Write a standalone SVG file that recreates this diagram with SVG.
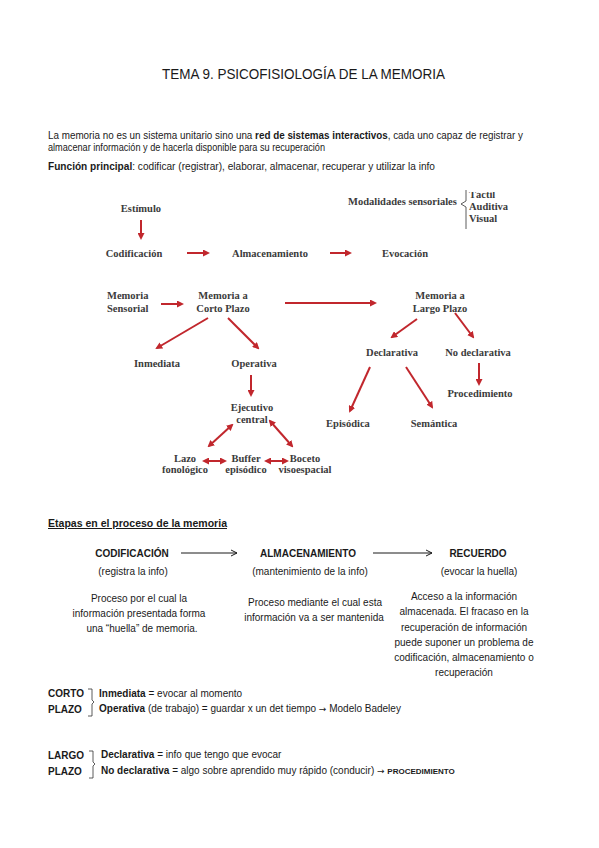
<svg xmlns="http://www.w3.org/2000/svg" width="599" height="848" viewBox="0 0 599 848">
<style>
.t{font-family:"Liberation Sans",Arial,sans-serif;font-size:10px;fill:#1a1a1a}
.b{font-weight:bold}
.ar{font-family:"DejaVu Sans",sans-serif;font-size:9px}
.title{font-family:"Liberation Sans",Arial,sans-serif;font-size:15px;fill:#1a1a1a}
.d{font-family:"Liberation Serif","Times New Roman",serif;font-size:10.5px;font-weight:bold;fill:#3b3b3b;text-anchor:middle}
.dl{font-family:"Liberation Serif","Times New Roman",serif;font-size:10.5px;font-weight:bold;fill:#3b3b3b}
.c{text-anchor:middle}
.ra{stroke:#c1272d;stroke-width:2;fill:none;marker-end:url(#rh)}
.rd{stroke:#c1272d;stroke-width:2;fill:none;marker-end:url(#rh);marker-start:url(#rh)}
.ka{stroke:#1a1a1a;stroke-width:1;fill:none;marker-end:url(#kh)}
.br{stroke:#333;stroke-width:0.8;fill:none}
</style>
<defs>
<marker id="rh" markerUnits="userSpaceOnUse" viewBox="0 0 7 7" markerWidth="7" markerHeight="7" refX="5" refY="3.5" orient="auto-start-reverse">
<path d="M0,0 L7,3.5 L0,7 z" fill="#c1272d"/>
</marker>
<marker id="kh" markerUnits="userSpaceOnUse" viewBox="0 0 8 8" markerWidth="8" markerHeight="8" refX="7" refY="4" orient="auto">
<path d="M1,1 L7,4 L1,7" fill="none" stroke="#1a1a1a" stroke-width="1"/>
</marker>
<clipPath id="clipT"><rect x="455" y="192" width="60" height="20"/></clipPath>
</defs>
<rect width="599" height="848" fill="#ffffff"/>

<g id="title"><text class="title" x="162" y="79" textLength="283" lengthAdjust="spacingAndGlyphs">TEMA 9. PSICOFISIOLOGÍA DE LA MEMORIA</text></g>

<g id="intro">
<text class="t" x="48" y="139" textLength="475" lengthAdjust="spacingAndGlyphs">La memoria no es un sistema unitario sino una <tspan class="b">red de sistemas interactivos</tspan>, cada uno capaz de registrar y</text>
<text class="t" x="48" y="151" textLength="277" lengthAdjust="spacingAndGlyphs">almacenar información y de hacerla disponible para su recuperación</text>
<text class="t" x="48" y="170" textLength="387" lengthAdjust="spacingAndGlyphs"><tspan class="b">Función principal</tspan>: codificar (registrar), elaborar, almacenar, recuperar y utilizar la info</text>
</g>

<g id="connectors">
<line class="ra" x1="141" y1="220" x2="141" y2="238"/>
<line class="ra" x1="187" y1="253" x2="208" y2="253"/>
<line class="ra" x1="330" y1="253" x2="350" y2="253"/>
<line class="ra" x1="161" y1="304" x2="182" y2="304"/>
<line class="ra" x1="285" y1="303" x2="375" y2="303"/>
<line class="ra" x1="208" y1="318" x2="157" y2="348"/>
<line class="ra" x1="228" y1="318" x2="258" y2="348"/>
<line class="ra" x1="417" y1="319" x2="392" y2="337"/>
<line class="ra" x1="455" y1="313" x2="473" y2="337"/>
<line class="ra" x1="370" y1="367" x2="350" y2="411"/>
<line class="ra" x1="406" y1="367" x2="432" y2="407"/>
<line class="ra" x1="479" y1="363" x2="479" y2="384"/>
<line class="ra" x1="251" y1="375" x2="251" y2="395"/>
<line class="rd" x1="232" y1="425" x2="209" y2="446"/>
<line class="rd" x1="270" y1="421" x2="292" y2="446"/>
<line class="rd" x1="204" y1="461" x2="225" y2="461"/>
<line class="rd" x1="266" y1="461" x2="287" y2="461"/>
<line class="ka" x1="181" y1="553" x2="237" y2="553"/>
<line class="ka" x1="373" y1="553" x2="432" y2="553"/>
</g>

<g id="n-estimulo"><text class="d" x="141" y="212">Estímulo</text></g>
<g id="n-codificacion"><text class="d" x="134" y="257">Codificación</text></g>
<g id="n-almacenamiento"><text class="d" x="270" y="257">Almacenamiento</text></g>
<g id="n-evocacion"><text class="d" x="405" y="257">Evocación</text></g>
<g id="n-modalidades">
<text class="dl" x="348" y="205">Modalidades sensoriales</text>
<path class="br" d="M466,190 L466,201 L461,204 L466,207 L466,229"/>
<text class="dl" x="469" y="198" clip-path="url(#clipT)">Táctil</text>
<text class="dl" x="469" y="210">Auditiva</text>
<text class="dl" x="469" y="222">Visual</text>
</g>
<g id="n-sensorial"><text class="dl" x="107" y="299">Memoria</text><text class="dl" x="107" y="312">Sensorial</text></g>
<g id="n-corto"><text class="d" x="223" y="299">Memoria a</text><text class="d" x="223" y="312">Corto Plazo</text></g>
<g id="n-largo"><text class="d" x="440" y="299">Memoria a</text><text class="d" x="440" y="312">Largo Plazo</text></g>
<g id="n-inmediata"><text class="d" x="157" y="367">Inmediata</text></g>
<g id="n-operativa"><text class="d" x="254" y="367">Operativa</text></g>
<g id="n-declarativa"><text class="d" x="392" y="356">Declarativa</text></g>
<g id="n-nodeclarativa"><text class="d" x="478" y="356">No declarativa</text></g>
<g id="n-procedimiento"><text class="d" x="480" y="397">Procedimiento</text></g>
<g id="n-episodica"><text class="d" x="348" y="427">Episódica</text></g>
<g id="n-semantica"><text class="d" x="434" y="427">Semántica</text></g>
<g id="n-ejecutivo"><text class="d" x="252" y="411">Ejecutivo</text><text class="d" x="252" y="423">central</text></g>
<g id="n-lazo"><text class="d" x="185" y="462">Lazo</text><text class="d" x="185" y="473">fonológico</text></g>
<g id="n-buffer"><text class="d" x="246" y="462">Buffer</text><text class="d" x="246" y="473">episódico</text></g>
<g id="n-boceto"><text class="d" x="305" y="462">Boceto</text><text class="d" x="305" y="473">visoespacial</text></g>

<g id="etapas-heading"><text class="t b" x="48" y="527" font-size="11" text-decoration="underline" textLength="179" lengthAdjust="spacingAndGlyphs">Etapas en el proceso de la memoria</text></g>

<g id="n-codif2">
<text class="t b c" x="132" y="557">CODIFICACIÓN</text>
<text class="t c" x="133" y="575">(registra la info)</text>
<text class="t c" x="139" y="602">Proceso por el cual la</text>
<text class="t c" x="139" y="617">información presentada forma</text>
<text class="t c" x="142" y="632">una “huella” de memoria.</text>
</g>
<g id="n-almac2">
<text class="t b c" x="308" y="557">ALMACENAMIENTO</text>
<text class="t c" x="310" y="575">(mantenimiento de la info)</text>
<text class="t c" x="315" y="606">Proceso mediante el cual esta</text>
<text class="t c" x="314" y="621">información va a ser mantenida</text>
</g>
<g id="n-recuerdo">
<text class="t b c" x="478" y="557">RECUERDO</text>
<text class="t c" x="479" y="575">(evocar la huella)</text>
<text class="t c" x="464" y="600">Acceso a la información</text>
<text class="t c" x="464" y="615">almacenada. El fracaso en la</text>
<text class="t c" x="464" y="631">recuperación de información</text>
<text class="t c" x="464" y="646">puede suponer un problema de</text>
<text class="t c" x="464" y="661">codificación, almacenamiento o</text>
<text class="t c" x="464" y="676">recuperación</text>
</g>

<g id="corto-plazo">
<text class="t b" x="48" y="697">CORTO</text>
<text class="t b" x="48" y="713">PLAZO</text>
<path class="br" d="M88,689 L92,689 L92,700 L94,702 L92,704 L92,716 L88,716"/>
<text class="t" x="99" y="697"><tspan class="b">Inmediata</tspan> = evocar al momento</text>
<text class="t" x="99" y="712"><tspan class="b">Operativa</tspan> (de trabajo) = guardar x un det tiempo <tspan class="ar">→</tspan> Modelo Badeley</text>
</g>
<g id="largo-plazo">
<text class="t b" x="48" y="759">LARGO</text>
<text class="t b" x="48" y="775">PLAZO</text>
<path class="br" d="M89,751 L93,751 L93,762 L95,764 L93,766 L93,778 L89,778"/>
<text class="t" x="101" y="758"><tspan class="b">Declarativa</tspan> = info que tengo que evocar</text>
<text class="t" x="101" y="774"><tspan class="b">No declarativa</tspan> = algo sobre aprendido muy rápido (conducir) <tspan class="ar">→</tspan> <tspan class="b" font-size="8">PROCEDIMIENTO</tspan></text>
</g>
</svg>
